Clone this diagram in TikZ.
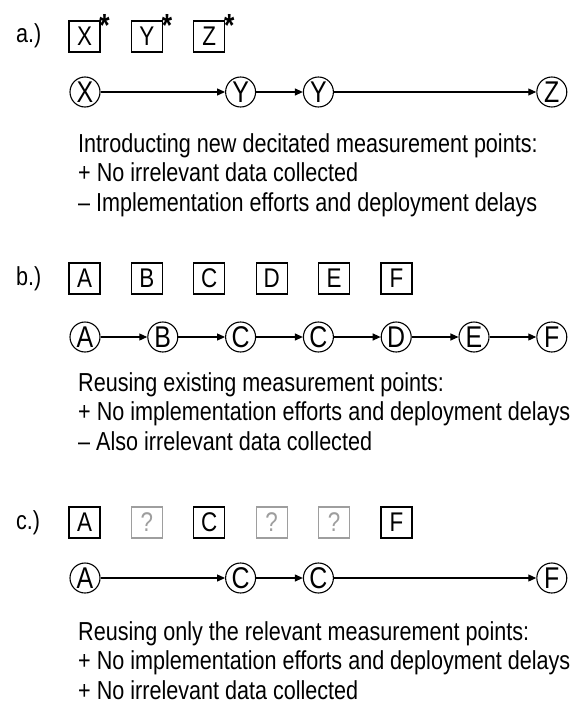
\documentclass[tikz,border=0pt]{standalone}
\usepackage{fontspec}
\setmainfont{Liberation Sans}[FakeStretch=0.83]
\usetikzlibrary{arrows.meta}

\begin{document}
\begin{tikzpicture}[x=1pt,y=-1pt,
  box/.style={draw, line width=1.1pt, minimum size=31pt, inner sep=0pt,
    font=\fontsize{27}{27}\selectfont},
  ghost/.style={box, draw=black!38, text=black!38},
  pt/.style={draw, circle, line width=1.1pt, minimum size=30pt, inner sep=0pt,
    font=\fontsize{30}{30}\selectfont},
  flow/.style={line width=1.2pt, -{Triangle[length=8pt,width=7pt]}},
  tag/.style={anchor=base west, inner sep=0pt, font=\fontsize{26}{26}\selectfont},
  note/.style={anchor=base west, align=left, inner sep=0pt,
    font=\fontsize{26}{29.5}\selectfont},
  star/.style={inner sep=0pt, font=\bfseries\fontsize{32}{32}\selectfont}
]
\useasboundingbox (0,0) rectangle (579,704);

% column positions
\def\bx#1{84.5+62.4*#1}
\def\cx#1{85+77.8*#1}

% ---------- a.) new dedicated measurement points ----------
\node[tag] (la) at (16,42) {a.)};
\node[box] (ax) at ({\bx0},36.5) {X};
\node[box] (ay) at ({\bx1},36.5) {Y};
\node[box] (az) at ({\bx2},36.5) {Z};
\node[star] (sx) at ([shift={(4,5.5)}]ax.north east) {*};
\node[star] (sy) at ([shift={(4,5.5)}]ay.north east) {*};
\node[star] (sz) at ([shift={(4,5.5)}]az.north east) {*};

\node[pt] (px)  at ({\cx0},92) {X};
\node[pt] (py1) at ({\cx2},92) {Y};
\node[pt] (py2) at ({\cx3},92) {Y};
\node[pt] (pz)  at ({\cx6},92) {Z};
\draw[flow] (px) -- (py1);
\draw[flow] (py1) -- (py2);
\draw[flow] (py2) -- (pz);

% the base anchor of a multi-line note is the baseline of its last line
\node[note] (ta) at (78,211) {Introducting new decitated measurement points:\\
+ No irrelevant data collected\\
– Implementation efforts and deployment delays};

% ---------- b.) reusing existing measurement points ----------
\node[tag] (lb) at (16,285) {b.)};
\node[box] (ba) at ({\bx0},278.5) {A};
\node[box] (bb) at ({\bx1},278.5) {B};
\node[box] (bc) at ({\bx2},278.5) {C};
\node[box] (bd) at ({\bx3},278.5) {D};
\node[box] (be) at ({\bx4},278.5) {E};
\node[box] (bf) at ({\bx5},278.5) {F};

\node[pt] (qa)  at ({\cx0},337) {A};
\node[pt] (qb)  at ({\cx1},337) {B};
\node[pt] (qc1) at ({\cx2},337) {C};
\node[pt] (qc2) at ({\cx3},337) {C};
\node[pt] (qd)  at ({\cx4},337) {D};
\node[pt] (qe)  at ({\cx5},337) {E};
\node[pt] (qf)  at ({\cx6},337) {F};
\draw[flow] (qa) -- (qb);
\draw[flow] (qb) -- (qc1);
\draw[flow] (qc1) -- (qc2);
\draw[flow] (qc2) -- (qd);
\draw[flow] (qd) -- (qe);
\draw[flow] (qe) -- (qf);

\node[note] (tb) at (78,450) {Reusing existing measurement points:\\
+ No implementation efforts and deployment delays\\
– Also irrelevant data collected};

% ---------- c.) reusing only the relevant points ----------
\node[tag] (lc) at (16,529) {c.)};
\node[box]   (ca) at ({\bx0},522.5) {A};
\node[ghost] (cq1) at ({\bx1},522.5) {?};
\node[box]   (cc) at ({\bx2},522.5) {C};
\node[ghost] (cq2) at ({\bx3},522.5) {?};
\node[ghost] (cq3) at ({\bx4},522.5) {?};
\node[box]   (cf) at ({\bx5},522.5) {F};

\node[pt] (ra)  at ({\cx0},578) {A};
\node[pt] (rc1) at ({\cx2},578) {C};
\node[pt] (rc2) at ({\cx3},578) {C};
\node[pt] (rf)  at ({\cx6},578) {F};
\draw[flow] (ra) -- (rc1);
\draw[flow] (rc1) -- (rc2);
\draw[flow] (rc2) -- (rf);

\node[note] (tc) at (78,699) {Reusing only the relevant measurement points:\\
+ No implementation efforts and deployment delays\\
+ No irrelevant data collected};
\end{tikzpicture}
\end{document}
